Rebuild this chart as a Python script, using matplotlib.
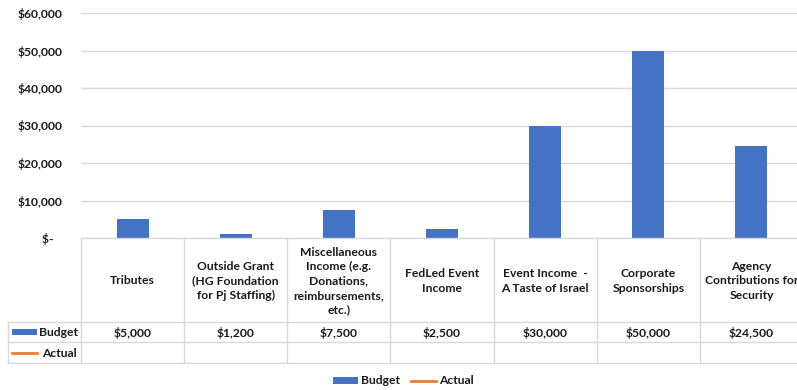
import matplotlib
matplotlib.use("Agg")
import matplotlib.pyplot as plt
import matplotlib.transforms as mtransforms
from matplotlib.patches import Rectangle, Patch
from matplotlib.lines import Line2D
from matplotlib.ticker import FuncFormatter, MultipleLocator

# data
categories = ["Tributes",
              "Outside Grant\n(HG Foundation\nfor Pj Staffing)",
              "Miscellaneous\nIncome (e.g.\nDonations,\nreimbursements,\netc.)",
              "FedLed Event\nIncome",
              "Event Income  -\nA Taste of Israel",
              "Corporate\nSponsorships",
              "Agency\nContributions for\nSecurity"]
budget = [5000, 1200, 7500, 2500, 30000, 50000, 24500]
actual = [None] * 7
series_names = ["Budget", "Actual"]

BLUE = "#4472C4"
ORANGE = "#ED7D31"
GRID = "#D9D9D9"
TXT = "#1a1a1a"
FS = 8.7

plt.rcParams['font.family'] = ['Lato', 'DejaVu Sans']
plt.rcParams['font.weight'] = 'bold'
plt.rcParams['font.size'] = FS

W, H = 797, 390
fig = plt.figure(figsize=(W / 100, H / 100), dpi=100)

# pixel layout
x0, x1 = 81, 803
y_top, y_zero, y_row1, y_row2, y_bot = 13, 238, 322, 342, 363

ax = fig.add_axes([x0 / W, 1 - y_zero / H, (x1 - x0) / W, (y_zero - y_top) / H])
n = len(categories)
xs = list(range(n))
ax.bar(xs, budget, width=0.31, color=BLUE, zorder=3)
ax.set_xlim(-0.5, n - 0.5)
ax.set_ylim(0, 60000)
ax.yaxis.set_major_locator(MultipleLocator(10000))
ax.yaxis.set_major_formatter(FuncFormatter(lambda v, p: "$-   " if v == 0 else f"${v:,.0f}"))
ax.tick_params(axis='y', length=0, pad=13, labelsize=FS, colors=TXT)
ax.tick_params(axis='x', length=0, labelbottom=False)
ax.grid(axis='y', color=GRID, linewidth=1, zorder=0)
for s in ax.spines.values():
    s.set_visible(False)

# data table under the chart
tax = fig.add_axes([x0 / W, 1 - y_bot / H, (x1 - x0) / W, (y_bot - y_zero) / H], sharex=ax)
tax.set_ylim(y_bot, y_zero)
tax.axis('off')
lw = 1
for i in range(n + 1):
    tax.plot([i - 0.5, i - 0.5], [y_zero, y_bot], color=GRID, lw=lw, clip_on=False)
bt = mtransforms.blended_transform_factory(fig.transFigure, tax.transData)
for yy in [y_row1, y_row2, y_bot]:
    tax.plot([8 / W, 1.02], [yy, yy], color=GRID, lw=lw, transform=bt, clip_on=False)
tax.plot([8 / W, 8 / W], [y_row1, y_bot], color=GRID, lw=lw, transform=bt, clip_on=False)
tax.plot([x0 / W, 1.02], [y_zero, y_zero], color=GRID, lw=lw, transform=bt, clip_on=False)

for i, (c, b) in enumerate(zip(categories, budget)):
    tax.text(i, (y_zero + y_row1) / 2 + 1, c, ha='center', va='center',
             linespacing=1.38, color=TXT, fontsize=FS, clip_on=False)
    tax.text(i, (y_row1 + y_row2) / 2 + 1, f"${b:,.0f}", ha='center', va='center',
             color=TXT, fontsize=FS, clip_on=False)

# row keys
tax.add_patch(Rectangle((12 / W, y_row1 + 7), 25 / W, 6, facecolor=BLUE,
                        transform=bt, clip_on=False))
tax.text(39 / W, (y_row1 + y_row2) / 2 + 1, series_names[0], transform=bt,
         ha='left', va='center', color=TXT, fontsize=FS)
tax.plot([12 / W, 37 / W], [(y_row2 + y_bot) / 2, (y_row2 + y_bot) / 2], color=ORANGE,
         lw=2, transform=bt, clip_on=False)
tax.text(42 / W, (y_row2 + y_bot) / 2 + 1, series_names[1], transform=bt,
         ha='left', va='center', color=TXT, fontsize=FS)

handles = [Patch(facecolor=BLUE), Line2D([0], [0], color=ORANGE, lw=2)]
fig.legend(handles, series_names, loc='center', bbox_to_anchor=(0.506, 1 - 381 / H),
           ncol=2, frameon=False, fontsize=FS, handlelength=2.1, handleheight=0.55,
           handletextpad=0.25, columnspacing=0.9, labelcolor=TXT)

fig.savefig("out.png", dpi=100)
